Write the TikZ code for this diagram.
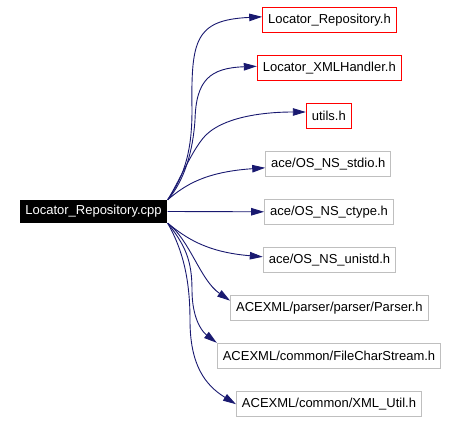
\documentclass[tikz,border=0pt]{standalone}
\usepackage{fontspec}
\setmainfont{Liberation Sans}
\usetikzlibrary{arrows.meta}
\definecolor{edgeblue}{HTML}{191970}
\definecolor{boxgrey}{HTML}{BFBFBF}
\tikzset{
  filebox/.style={draw=boxgrey, line width=1pt, minimum height=25pt, inner xsep=5.5pt, inner ysep=0pt, font=\fontsize{13}{15}\selectfont},
  localbox/.style={filebox, draw=red},
  mainbox/.style={fill=black, text=white, minimum height=23pt, inner xsep=5.8pt, inner ysep=0pt, font=\fontsize{13}{15}\selectfont},
  dep/.style={draw=edgeblue, line width=0.9pt, -{Triangle[length=13pt,width=7.5pt]}}
}
\begin{document}
\begin{tikzpicture}[x=1pt,y=-1pt]
\useasboundingbox (0,0) rectangle (459,422);
\node[mainbox] (main) at (93.5,211.5) {Locator\_Repository.cpp};
\node[localbox] (t1) at (329.5,19.8) {Locator\_Repository.h};
\node[localbox] (t2) at (329.3,67.8) {Locator\_XMLHandler.h};
\node[localbox] (t3) at (328.8,116) {utils.h};
\node[filebox] (t4) at (328.3,163.8) {ace/OS\_NS\_stdio.h};
\node[filebox] (t5) at (329,211.8) {ace/OS\_NS\_ctype.h};
\node[filebox] (t6) at (329.5,259.8) {ace/OS\_NS\_unistd.h};
\node[filebox] (t7) at (329.3,307.7) {ACEXML/parser/parser/Parser.h};
\node[filebox] (t8) at (329,355.8) {ACEXML/common/FileCharStream.h};
\node[filebox] (t9) at (329,404.2) {ACEXML/common/XML\_Util.h};

\draw[dep] (main.north east) .. controls (185,175) and (192,150) .. (192,110) .. controls (191,40) and (195,20) .. ([yshift=3pt]t1.west);
\draw[dep] (main.north east) .. controls (185,180) and (193,150) .. (195,120) .. controls (196,80) and (210,68) .. ([yshift=1.5pt]t2.west);
\draw[dep] (main.north east) .. controls (180,180) and (192,150) .. (205,136) .. controls (222,118) and (260,112) .. ([yshift=4pt]t3.west);
\draw[dep] (main.north east) .. controls (185,185) and (205,172) .. ([yshift=-4pt]t4.west);
\draw[dep] (main.east) -- (t5.west);
\draw[dep] (main.south east) .. controls (185,237) and (205,252) .. ([yshift=3pt]t6.west);
\draw[dep] (main.south east) .. controls (190,240) and (200,280) .. ([yshift=7pt]t7.west);
\draw[dep] (main.south east) .. controls (185,245) and (192,260) .. (192,290) .. controls (192,315) and (200,330) .. (t8.north west);
\draw[dep] (main.south east) .. controls (183,250) and (190,280) .. (190,320) .. controls (190,365) and (205,385) .. (t9.west);
\end{tikzpicture}
\end{document}
